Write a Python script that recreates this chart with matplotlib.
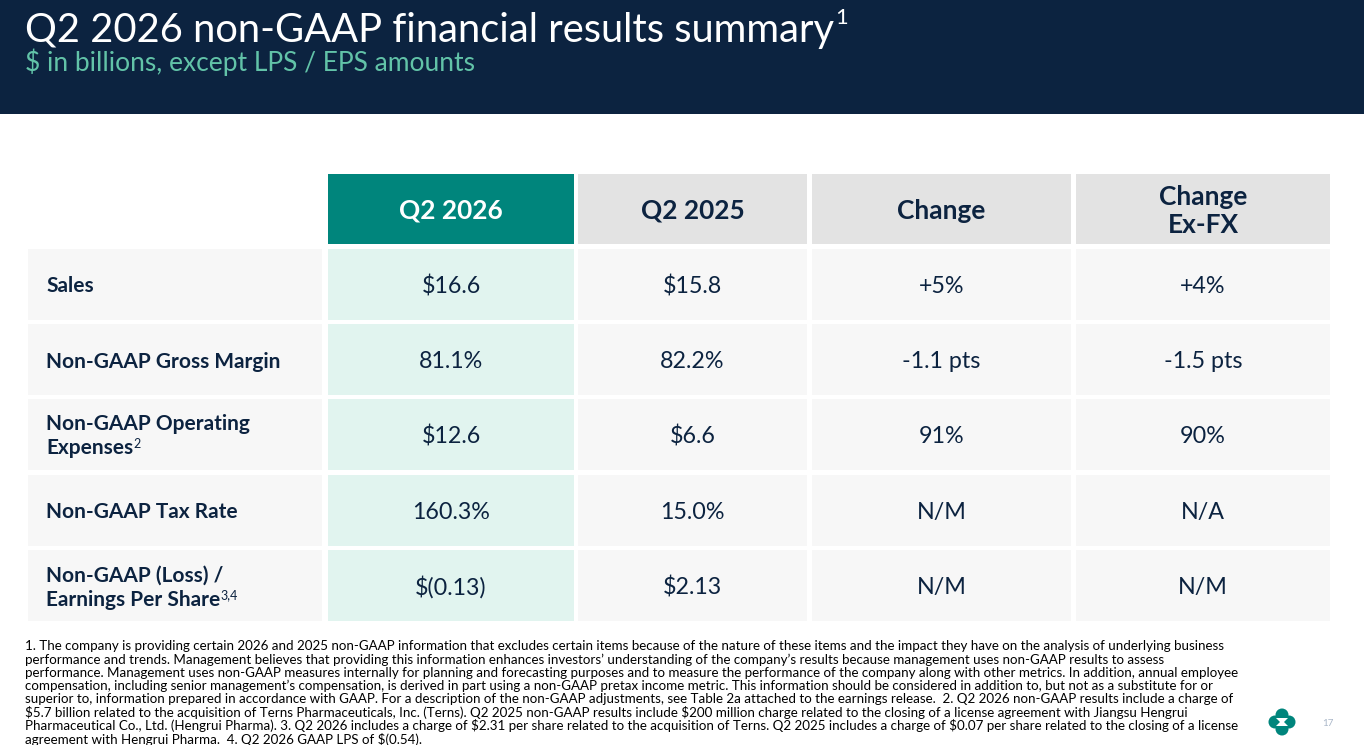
import numpy as np
import matplotlib
matplotlib.use("Agg")
import matplotlib.pyplot as plt
from matplotlib.patches import Rectangle, Circle, Polygon
from matplotlib import font_manager as fm

plt.rcParams['text.parse_math'] = False

names = {f.name for f in fm.fontManager.ttflist}
FONT = 'Lato' if 'Lato' in names else 'Liberation Sans'
FOOT_FONT = 'Liberation Sans Narrow' if 'Liberation Sans Narrow' in names else FONT

# ---- data ----
title = "Q2 2026 non-GAAP financial results summary"
subtitle = "$ in billions, except LPS / EPS amounts"
col_headers = ["Q2 2026", "Q2 2025", "Change", "Change\nEx-FX"]
row_labels = ["Sales", "Non-GAAP Gross Margin", "Non-GAAP Operating\nExpenses",
              "Non-GAAP Tax Rate", "Non-GAAP (Loss) /\nEarnings Per Share"]
row_notes = ["", "", "2", "", "3,4"]
q2_2026 = ["$16.6", "81.1%", "$12.6", "160.3%", "$(0.13)"]
q2_2025 = ["$15.8", "82.2%", "$6.6", "15.0%", "$2.13"]
change = ["+5%", "-1.1 pts", "91%", "N/M", "N/M"]
change_exfx = ["+4%", "-1.5 pts", "90%", "N/A", "N/M"]
footnotes = [
    "1. The company is providing certain 2026 and 2025 non-GAAP information that excludes certain items because of the nature of these items and the impact they have on the analysis of underlying business",
    "performance and trends. Management believes that providing this information enhances investors\u2019 understanding of the company\u2019s results because management uses non-GAAP results to assess",
    "performance. Management uses non-GAAP measures internally for planning and forecasting purposes and to measure the performance of the company along with other metrics. In addition, annual employee",
    "compensation, including senior management\u2019s compensation, is derived in part using a non-GAAP pretax income metric. This information should be considered in addition to, but not as a substitute for or",
    "superior to, information prepared in accordance with GAAP. For a description of the non-GAAP adjustments, see Table 2a attached to the earnings release.  2. Q2 2026 non-GAAP results include a charge of",
    "$5.7 billion related to the acquisition of Terns Pharmaceuticals, Inc. (Terns). Q2 2025 non-GAAP results include $200 million charge related to the closing of a license agreement with Jiangsu Hengrui",
    "Pharmaceutical Co., Ltd. (Hengrui Pharma). 3. Q2 2026 includes a charge of $2.31 per share related to the acquisition of Terns. Q2 2025 includes a charge of $0.07 per share related to the closing of a license",
    "agreement with Hengrui Pharma.  4. Q2 2026 GAAP LPS of $(0.54).",
]
page_no = "17"

navy = '#0C2340'
teal = '#00857C'
mint = '#E1F4EF'
cell_gray = '#F7F7F7'
head_gray = '#E3E3E3'
sub_teal = '#62C3A8'

W, H = 1364, 745
fig = plt.figure(figsize=(W / 100, H / 100), dpi=100)
ax = fig.add_axes([0, 0, 1, 1])
ax.set_xlim(0, W)
ax.set_ylim(H, 0)
ax.axis('off')
renderer = fig.canvas.get_renderer()


def text_w(s, size, **kw):
    t = ax.text(0, 0, s, fontsize=size, **kw)
    w = t.get_window_extent(renderer=renderer).width
    t.remove()
    return w


def fit(s, target, **kw):
    return 20 * target / text_w(s, 20, **kw)


# header band
ax.add_patch(Rectangle((0, 0), W, 114, color=navy, lw=0))
ts = fit(title, 810, family=FONT)
t = ax.text(25, 42, title, fontsize=ts, family=FONT, color='white', va='baseline')
bb = t.get_window_extent(renderer=renderer).transformed(ax.transData.inverted())
ax.text(bb.x1 + 1, 24, "1", fontsize=ts * 0.55, family=FONT, color='white', va='baseline')
ss = fit(subtitle, 450, family=FONT)
ax.text(25, 71, subtitle, fontsize=ss, family=FONT, color=sub_teal, va='baseline')

# table geometry
col_x = [(28, 322), (328, 574), (578, 807), (812, 1071), (1076, 1330)]
head_y = (174, 244)
row_top = [249, 324, 399, 475, 550]
row_h = 71

hs = fit("Change", 88, family=FONT, weight='bold')
for j, h in enumerate(col_headers):
    x0, x1 = col_x[j + 1]
    ax.add_patch(Rectangle((x0, head_y[0]), x1 - x0, head_y[1] - head_y[0],
                           color=teal if j == 0 else head_gray, lw=0))
    ax.text((x0 + x1) / 2, (head_y[0] + head_y[1]) / 2 + 2, h, fontsize=hs, family=FONT,
            weight='bold', color='white' if j == 0 else navy, ha='center', va='center',
            linespacing=1.2)

ls = fit("Non-GAAP Gross Margin", 234, family=FONT, weight='bold')
vs = fit("160.3%", 78, family=FONT)
values = [q2_2026, q2_2025, change, change_exfx]
for i, lab in enumerate(row_labels):
    y0 = row_top[i]
    yc = y0 + row_h / 2
    for j, (x0, x1) in enumerate(col_x):
        fc = mint if j == 1 else cell_gray
        ax.add_patch(Rectangle((x0, y0), x1 - x0, row_h, color=fc, lw=0))
    lines = lab.split("\n")
    n = len(lines)
    for k, line in enumerate(lines):
        ly = yc + (k - (n - 1) / 2) * 24 + 2
        lt = ax.text(46, ly, line, fontsize=ls, family=FONT, weight='bold', color=navy, va='center')
        if k == n - 1 and row_notes[i]:
            b = lt.get_window_extent(renderer=renderer).transformed(ax.transData.inverted())
            ax.text(b.x1, ly - 4, row_notes[i], fontsize=ls * 0.6, family=FONT,
                    color=navy, va='center')
    for j, col in enumerate(values):
        x0, x1 = col_x[j + 1]
        ax.text((x0 + x1) / 2, yc + 2, col[i], fontsize=vs, family=FONT, color=navy,
                ha='center', va='center')

# footnotes
fs = fit(footnotes[6], 1211, family=FOOT_FONT)
for k, line in enumerate(footnotes):
    ax.text(25, 646 + k * 13.3, line, fontsize=fs, family=FOOT_FONT, color='black', va='center')

# logo
cx, cy, r = 1282, 722, 6.5
for dx, dy in [(0, -7), (0, 7), (-7, 0), (7, 0)]:
    ax.add_patch(Circle((cx + dx, cy + dy), r, color=teal, lw=0))
ax.add_patch(Polygon([(cx - 6, cy - 4), (cx + 6, cy - 4), (cx + 2, cy), (cx + 6, cy + 4),
                      (cx - 6, cy + 4), (cx - 2, cy)], closed=True, color='white', lw=0))
ax.text(1328, 723, page_no, fontsize=7, family=FONT, color='#A9B6C8', ha='center', va='center')

fig.savefig("out.png", dpi=100)
